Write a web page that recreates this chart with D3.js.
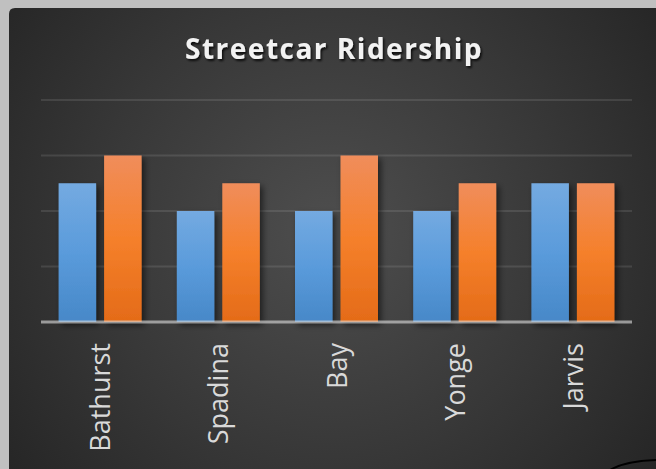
<!DOCTYPE html>
<html><head><meta charset="utf-8">
<script src="https://cdn.jsdelivr.net/npm/d3@7"></script>
<style>html,body{margin:0;padding:0;background:#c0c0c0;overflow:hidden}</style>
</head><body>
<svg id="c" width="656" height="469"></svg>
<script>
const categories = ["Bathurst", "Spadina", "Bay", "Yonge", "Jarvis"];
const seriesNames = ["Series 1", "Series 2"];
const series1 = [5, 4, 4, 4, 5];
const series2 = [6, 5, 6, 5, 5];
const gridTicks = [0, 2, 4, 6, 8];
const title = "Streetcar Ridership";

const svg = d3.select("#c");
const W = 656, H = 469;
const defs = svg.append("defs");

const bg = defs.append("radialGradient").attr("id","bg")
  .attr("gradientUnits","userSpaceOnUse").attr("cx",330).attr("cy",230).attr("r",430);
bg.append("stop").attr("offset","0").attr("stop-color","#4e4e4e");
bg.append("stop").attr("offset","0.55").attr("stop-color","#373737");
bg.append("stop").attr("offset","1").attr("stop-color","#232323");

function vgrad(id, stops){
  const g = defs.append("linearGradient").attr("id",id).attr("x1",0).attr("y1",0).attr("x2",0).attr("y2",1);
  stops.forEach(s=>g.append("stop").attr("offset",s[0]).attr("stop-color",s[1]));
}
vgrad("gBlue", [[0,"#74aae1"],[0.5,"#5a9bdb"],[1,"#4788c8"]]);
vgrad("gOrange", [[0,"#f08d5b"],[0.5,"#f5802b"],[1,"#e46b18"]]);

const sh = defs.append("filter").attr("id","sh").attr("x","-30%").attr("y","-30%").attr("width","160%").attr("height","160%");
sh.append("feDropShadow").attr("dx",3).attr("dy",3).attr("stdDeviation",3).attr("flood-color","#000").attr("flood-opacity",0.55);
const tsh = defs.append("filter").attr("id","tsh").attr("x","-10%").attr("y","-30%").attr("width","120%").attr("height","160%");
tsh.append("feDropShadow").attr("dx",1.5).attr("dy",2).attr("stdDeviation",1.2).attr("flood-color","#000").attr("flood-opacity",0.8);

// panel
svg.append("path")
  .attr("d", `M9,${H} L9,14 Q9,8 15,8 L${W},8 L${W},${H} Z`)
  .attr("fill","url(#bg)");

const x0 = d3.scaleBand().domain(categories).range([41, 632]).paddingInner(0.298).paddingOuter(0.149);
const x1 = d3.scaleBand().domain(seriesNames).range([0, x0.bandwidth()]).paddingInner(0.176);
const y = d3.scaleLinear().domain([0, 8]).range([322, 100]);

// gridlines
svg.append("g").selectAll("line").data(gridTicks.filter(d=>d>0)).join("line")
  .attr("x1",41).attr("x2",632).attr("y1",d=>y(d)).attr("y2",d=>y(d))
  .attr("stroke","#d9d9d9").attr("stroke-opacity",0.13).attr("stroke-width",2);

// bars
const data = categories.map((c,i)=>({c, vals:[{s:seriesNames[0],v:series1[i],f:"url(#gBlue)"},{s:seriesNames[1],v:series2[i],f:"url(#gOrange)"}]}));
const g = svg.append("g").selectAll("g").data(data).join("g")
  .attr("transform",d=>`translate(${x0(d.c)},0)`);
g.selectAll("rect").data(d=>d.vals).join("rect")
  .attr("x",d=>x1(d.s)).attr("width",x1.bandwidth())
  .attr("y",d=>y(d.v)).attr("height",d=>y(0)-y(d.v))
  .attr("fill",d=>d.f).attr("filter","url(#sh)");

// baseline
svg.append("line").attr("x1",41).attr("x2",632).attr("y1",y(0)).attr("y2",y(0))
  .attr("stroke","#dcdcdc").attr("stroke-opacity",0.62).attr("stroke-width",3);

// category labels
svg.append("g").selectAll("text").data(categories).join("text")
  .attr("transform",d=>`translate(${x0(d)+x0.bandwidth()/2+10},343) rotate(-90)`)
  .attr("text-anchor","end")
  .attr("font-family","'Open Sans', sans-serif").attr("font-size",27)
  .attr("fill","#d9d9d9").text(d=>d);

// title
svg.append("text").attr("x",334).attr("y",59).attr("text-anchor","middle")
  .attr("font-family","'Open Sans', sans-serif").attr("font-weight","bold").attr("font-size",28)
  .attr("letter-spacing",1.5)
  .attr("fill","#f2f2f2").attr("filter","url(#tsh)").text(title);

// corner decoration arc
svg.append("path").attr("d","M610,470 Q625,461 656,460")
  .attr("fill","none").attr("stroke","#000").attr("stroke-width",2);
</script>
</body></html>
